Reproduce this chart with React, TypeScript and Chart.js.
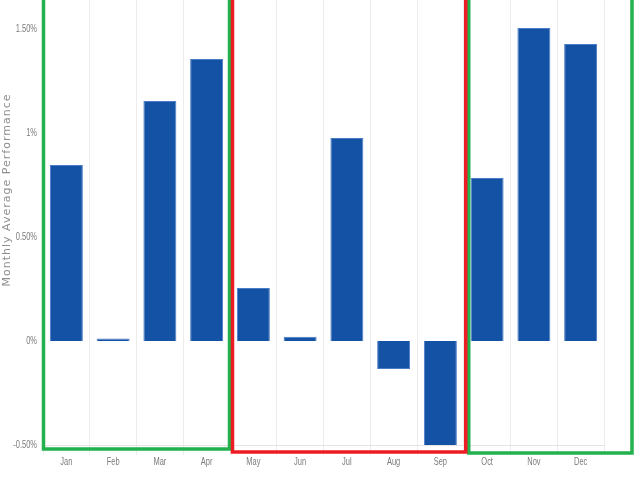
import React, { useEffect, useRef } from "react";
import { Chart, registerables } from "chart.js";

Chart.register(...registerables);

const months = ["Jan", "Feb", "Mar", "Apr", "May", "Jun", "Jul", "Aug", "Sep", "Oct", "Nov", "Dec"];
const performance = [0.846, 0.012, 1.154, 1.356, 0.255, 0.02, 0.976, -0.135, -0.505, 0.784, 1.505, 1.428];
const yTickValues = [-0.5, 0, 0.5, 1, 1.5];
const yTickLabels = ["-0.50%", "0%", "0.50%", "1%", "1.50%"];
const yTitle = "Monthly Average Performance";
// groups of months highlighted by boxes: [firstIndex, lastIndex, colour]
const groupStart = [0, 4, 9];
const groupEnd = [3, 8, 11];
const groupColor = ["#22b14c", "#ed1c24", "#22b14c"];

const LABEL_FONT = '11px "Liberation Sans", Arial, sans-serif';
const SQUEEZE = 0.68;

const labelsPlugin = {
  id: "narrowLabels",
  afterDraw(chart: any) {
    const ctx = chart.ctx;
    const x = chart.scales.x;
    const y = chart.scales.y;
    const area = chart.chartArea;
    ctx.save();
    ctx.font = LABEL_FONT;
    ctx.fillStyle = "#7a7a7a";
    ctx.textBaseline = "middle";
    // y labels, right aligned
    ctx.textAlign = "right";
    yTickValues.forEach((v, i) => {
      const py = y.getPixelForValue(v);
      ctx.save();
      ctx.translate(area.left - 6, py);
      ctx.scale(SQUEEZE, 1);
      ctx.fillText(yTickLabels[i], 0, 0);
      ctx.restore();
    });
    // x labels, centred
    ctx.textAlign = "center";
    months.forEach((m, i) => {
      const px = x.getPixelForValue(i);
      ctx.save();
      ctx.translate(px, area.bottom + 17);
      ctx.scale(SQUEEZE, 1);
      ctx.fillText(m, 0, 0);
      ctx.restore();
    });
    ctx.restore();
  },
};

const boxesPlugin = {
  id: "boxes",
  afterDraw(chart: any) {
    const ctx = chart.ctx;
    const x = chart.scales.x;
    const area = chart.chartArea;
    const band = x.getPixelForValue(1) - x.getPixelForValue(0);
    const edge = (i: number) => x.getPixelForValue(i) - band / 2;
    ctx.save();
    ctx.lineWidth = 3.5;
    const rects = [
      { l: edge(groupStart[0]) + 0.5, r: edge(groupEnd[0] + 1) - 0.5, b: area.bottom + 4 },
      { l: edge(groupStart[1]) + 2.5, r: edge(groupEnd[1] + 1) + 2, b: area.bottom + 7 },
      { l: edge(groupStart[2]) + 5, r: area.right + 28, b: area.bottom + 8 },
    ];
    const order = [0, 2, 1];
    order.forEach((k) => {
      const rc = rects[k];
      ctx.strokeStyle = groupColor[k];
      ctx.strokeRect(rc.l, area.top - 20, rc.r - rc.l, rc.b - (area.top - 20));
    });
    ctx.restore();
  },
};

const titlePlugin = {
  id: "ytitle",
  afterDraw(chart: any) {
    const ctx = chart.ctx;
    ctx.save();
    ctx.translate(7, 190);
    ctx.rotate(-Math.PI / 2);
    ctx.font = '11px "DejaVu Sans", sans-serif';
    (ctx as any).letterSpacing = "1px";
    ctx.fillStyle = "#8f8f8f";
    ctx.textAlign = "center";
    ctx.textBaseline = "middle";
    ctx.fillText(yTitle, 0, 0);
    ctx.restore();
  },
};

export default function App() {
  const ref = useRef<HTMLCanvasElement>(null);
  useEffect(() => {
    if (!ref.current) return;
    const chart = new Chart(ref.current, {
      type: "bar",
      data: {
        labels: months,
        datasets: [
          {
            data: performance,
            backgroundColor: "#1452a6",
            borderColor: "#4a7cc6",
            borderWidth: 1,
            barPercentage: 0.705,
            categoryPercentage: 1,
          },
        ],
      },
      options: {
        animation: false,
        responsive: true,
        maintainAspectRatio: false,
        layout: { padding: { top: 0, right: 36, left: 0, bottom: 0 } },
        plugins: { legend: { display: false }, tooltip: { enabled: false } },
        scales: {
          x: {
            grid: { display: true, color: "#ececec", offset: true, tickLength: 10, drawTicks: true },
            border: { display: true, color: "#e4e4e4" },
            ticks: { display: false },
            afterFit: (s: any) => {
              s.height = 35;
              s.paddingLeft = 0;
              s.paddingRight = 0;
            },
          },
          y: {
            min: -0.5,
            max: 1.64,
            grid: { display: false, drawTicks: false },
            border: { display: false },
            afterBuildTicks: (s: any) => {
              s.ticks = yTickValues.map((v) => ({ value: v }));
            },
            ticks: { display: false },
            afterFit: (s: any) => {
              s.width = 43;
              s.paddingTop = 0;
              s.paddingBottom = 0;
            },
          },
        },
      },
      plugins: [labelsPlugin, boxesPlugin, titlePlugin],
    });
    return () => chart.destroy();
  }, []);
  return (
    <div style={{ position: "absolute", left: 0, top: 0, width: 640, height: 480 }}>
      <canvas ref={ref} />
    </div>
  );
}
